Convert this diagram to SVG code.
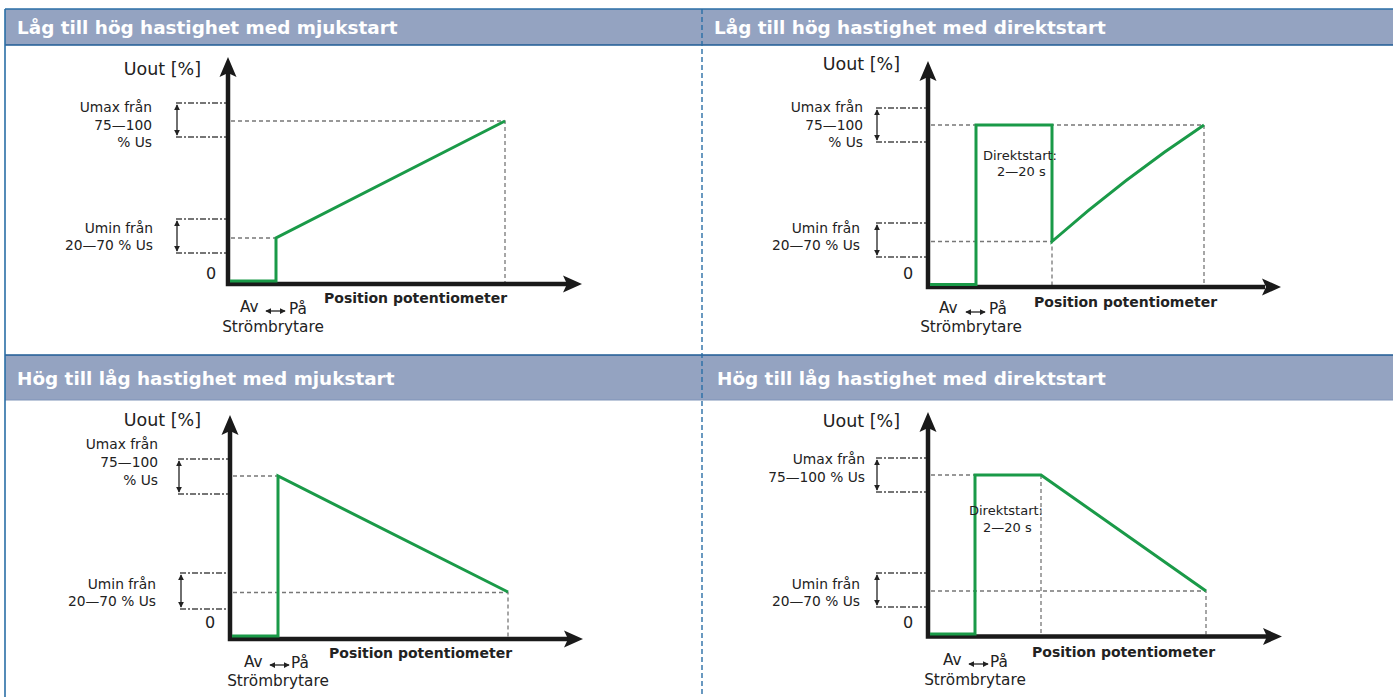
<svg xmlns="http://www.w3.org/2000/svg" width="1393" height="697" viewBox="0 0 1393 697">
<style>
.hdr{fill:#94a3c1}
.hline{stroke:#1f5b94;stroke-width:1.6;fill:none}
.htxt{font-family:"DejaVu Sans",sans-serif;font-weight:bold;font-size:18.4px;fill:#fff}
.t{font-family:"DejaVu Sans",sans-serif;fill:#222}
.uout{font-size:17.5px}
.lab{font-size:13.8px;text-anchor:end}
.zero{font-size:16px;text-anchor:middle}
.sw{font-size:15.3px}
.pos{font-size:14px;font-weight:bold}
.dir{font-size:13px}
.axis{stroke:#1a1a1a;stroke-width:4.5;fill:none}
.ahead{fill:#1a1a1a}
.green{stroke:#1a9a48;stroke-width:3;fill:none;stroke-linejoin:miter}
.lvl{stroke:#777;stroke-width:1.3;stroke-dasharray:4 3;fill:none}
.brk{stroke:#4a4a4a;stroke-width:1.6;stroke-dasharray:6 2 2 2;fill:none}
.dbl{stroke:#222;stroke-width:1.3;fill:none;marker-start:url(#ah);marker-end:url(#ah)}
</style>
<defs>
<marker id="ah" viewBox="0 0 8 8" refX="7" refY="4" markerWidth="6" markerHeight="6" markerUnits="userSpaceOnUse" orient="auto-start-reverse">
<path d="M0,0 L8,4 L0,8 Z" fill="#222"/>
</marker>
</defs>
<rect width="1393" height="697" fill="#fff"/>
<g id="frame">
<rect class="hdr" x="5" y="9" width="1388" height="36"/>
<rect class="hdr" x="5" y="355" width="1388" height="45"/>
<line x1="5" y1="9" x2="1393" y2="9" stroke="#2a6ea6" stroke-width="1.6"/>
<line class="hline" x1="5" y1="45" x2="1393" y2="45"/>
<line class="hline" x1="5" y1="355" x2="1393" y2="355"/>
<line x1="5" y1="400" x2="1393" y2="400" stroke="#7f93b8" stroke-width="1"/>
<line x1="5" y1="9" x2="5" y2="697" stroke="#2a6ea6" stroke-width="1.6"/>
<line x1="702" y1="9" x2="702" y2="697" stroke="#2a6ea6" stroke-width="1.4" stroke-dasharray="5 3"/>
<text class="htxt" x="17" y="34">Låg till hög hastighet med mjukstart</text>
<text class="htxt" x="714" y="34">Låg till hög hastighet med direktstart</text>
<text class="htxt" x="17" y="385">Hög till låg hastighet med mjukstart</text>
<text class="htxt" x="717" y="385">Hög till låg hastighet med direktstart</text>
</g>

<g id="panel-tl">
<g id="tl-guides">
<path class="lvl" d="M231,121 H505 V282 M231,238 H276"/>
<path class="brk" d="M176,103 H226 M176,137 H226 M176,219 H226 M176,253 H226"/>
<line class="dbl" x1="177" y1="105" x2="177" y2="135"/>
<line class="dbl" x1="177" y1="221" x2="177" y2="251"/>
</g>
<g id="tl-axes">
<path class="axis" d="M228,72 V286.2 M226,284 H567"/>
<path class="ahead" d="M228,57 L236.5,77 L228,73 L219.5,77 Z"/>
<path class="ahead" d="M582,284 L563,292.5 L567,284 L563,275.5 Z"/>
</g>
<polyline class="green" points="230,281 276,281 276,238 505,121"/>
<g id="tl-text" class="t">
<text class="uout" x="201" y="75" text-anchor="end">Uout [%]</text>
<text class="lab" x="152" y="112">Umax från</text>
<text class="lab" x="152" y="129.5">75—100</text>
<text class="lab" x="152" y="147">% Us</text>
<text class="lab" x="153" y="233">Umin från</text>
<text class="lab" x="153" y="250">20—70 % Us</text>
<text class="zero" x="211" y="279">0</text>
<text class="sw" x="240" y="312">Av</text>
<line class="dbl" x1="266" y1="311" x2="285" y2="311"/>
<text class="sw" x="289" y="314">På</text>
<text class="sw" x="273" y="332" text-anchor="middle">Strömbrytare</text>
<text class="pos" x="324" y="303">Position potentiometer</text>
</g>
</g>

<g id="panel-tr">
<g id="tr-guides">
<path class="lvl" d="M931,125 H1204 V285 M931,241.5 H1052 V285"/>
<path class="brk" d="M876,108 H926 M876,142 H926 M876,223 H926 M876,257 H926"/>
<line class="dbl" x1="877" y1="110" x2="877" y2="140"/>
<line class="dbl" x1="877" y1="225" x2="877" y2="255"/>
</g>
<g id="tr-axes">
<path class="axis" d="M928,76 V289.2 M926,287 H1265"/>
<path class="ahead" d="M928,61 L936.5,81 L928,77 L919.5,81 Z"/>
<path class="ahead" d="M1281,287 L1262,295.5 L1266,287 L1262,278.5 Z"/>
</g>
<path class="green" d="M930,284.5 H976 V125 H1052 V241.5 Q1124,178 1204,125"/>
<g id="tr-text" class="t">
<text class="uout" x="900" y="70" text-anchor="end">Uout [%]</text>
<text class="lab" x="863" y="112">Umax från</text>
<text class="lab" x="863" y="129.5">75—100</text>
<text class="lab" x="863" y="147">% Us</text>
<text class="lab" x="860" y="233">Umin från</text>
<text class="lab" x="860" y="250">20—70 % Us</text>
<text class="zero" x="908" y="279">0</text>
<text class="dir" x="983" y="160">Direktstart:</text>
<text class="dir" x="997" y="176">2—20 s</text>
<text class="sw" x="939" y="312.5">Av</text>
<line class="dbl" x1="966" y1="312" x2="985" y2="312"/>
<text class="sw" x="989" y="314">På</text>
<text class="sw" x="971" y="332" text-anchor="middle">Strömbrytare</text>
<text class="pos" x="1034" y="307">Position potentiometer</text>
</g>
</g>

<g id="panel-bl">
<g id="bl-guides">
<path class="lvl" d="M233,476 H278 M233,592.5 H508 V637"/>
<path class="brk" d="M178,459 H228 M178,494 H228 M180,573 H229 M180,609 H229"/>
<line class="dbl" x1="179" y1="461" x2="179" y2="492"/>
<line class="dbl" x1="181" y1="575" x2="181" y2="607"/>
</g>
<g id="bl-axes">
<path class="axis" d="M230,430 V641.2 M228,639 H568"/>
<path class="ahead" d="M230,415 L238.5,435 L230,431 L221.5,435 Z"/>
<path class="ahead" d="M583,639 L564,647.5 L568,639 L564,630.5 Z"/>
</g>
<polyline class="green" points="232,636 278,636 278,476 508,592"/>
<g id="bl-text" class="t">
<text class="uout" x="201" y="426" text-anchor="end">Uout [%]</text>
<text class="lab" x="158" y="449">Umax från</text>
<text class="lab" x="158" y="467">75—100</text>
<text class="lab" x="158" y="485">% Us</text>
<text class="lab" x="156" y="589">Umin från</text>
<text class="lab" x="156" y="606">20—70 % Us</text>
<text class="zero" x="210" y="628">0</text>
<text class="sw" x="244" y="666.5">Av</text>
<line class="dbl" x1="270" y1="665" x2="289" y2="665"/>
<text class="sw" x="291" y="668">På</text>
<text class="sw" x="278" y="686" text-anchor="middle">Strömbrytare</text>
<text class="pos" x="329" y="658">Position potentiometer</text>
</g>
</g>

<g id="panel-br">
<g id="br-guides">
<path class="lvl" d="M931,475 H975 M1041,475 V634.5 M931,591 H1206 V634.5"/>
<path class="brk" d="M876,458 H926 M876,492 H926 M876,573 H926 M876,607 H926"/>
<line class="dbl" x1="877" y1="460" x2="877" y2="490"/>
<line class="dbl" x1="877" y1="575" x2="877" y2="605"/>
</g>
<g id="br-axes">
<path class="axis" d="M928,427 V638.7 M926,636.5 H1267"/>
<path class="ahead" d="M928,412 L936.5,432 L928,428 L919.5,432 Z"/>
<path class="ahead" d="M1282,636.5 L1263,645 L1267,636.5 L1263,628 Z"/>
</g>
<polyline class="green" points="930,634 975,634 975,475 1041,475 1206,591"/>
<g id="br-text" class="t">
<text class="uout" x="900" y="427" text-anchor="end">Uout [%]</text>
<text class="lab" x="865" y="464">Umax från</text>
<text class="lab" x="865" y="482">75—100 % Us</text>
<text class="lab" x="860" y="589">Umin från</text>
<text class="lab" x="860" y="606">20—70 % Us</text>
<text class="zero" x="908" y="628">0</text>
<text class="dir" x="969" y="515">Direktstart:</text>
<text class="dir" x="983" y="532">2—20 s</text>
<text class="sw" x="943" y="665">Av</text>
<line class="dbl" x1="969" y1="664" x2="988" y2="664"/>
<text class="sw" x="990" y="666.5">På</text>
<text class="sw" x="975" y="684.5" text-anchor="middle">Strömbrytare</text>
<text class="pos" x="1032" y="657">Position potentiometer</text>
</g>
</g>
</svg>
